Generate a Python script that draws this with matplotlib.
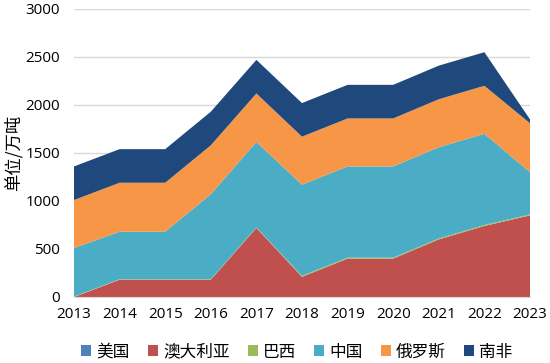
import matplotlib.pyplot as plt
from matplotlib.patches import Patch

plt.rcParams['font.family'] = ['Open Sans', 'Noto Sans CJK SC', 'DejaVu Sans']

# Données (万吨)
years = [2013, 2014, 2015, 2016, 2017, 2018, 2019, 2020, 2021, 2022, 2023]
usa = [0, 0, 0, 0, 0, 0, 0, 0, 0, 0, 0]
australie = [0, 180, 180, 180, 720, 210, 400, 400, 600, 740, 850]
bresil = [5, 5, 5, 5, 5, 10, 10, 10, 10, 10, 10]
chine = [505, 495, 495, 885, 890, 950, 950, 950, 950, 950, 440]
russie = [500, 510, 510, 510, 505, 500, 500, 500, 500, 500, 510]
afrique_sud = [350, 350, 350, 350, 350, 350, 350, 350, 350, 350, 40]

labels = ['美国', '澳大利亚', '巴西', '中国', '俄罗斯', '南非']
colors = ['#4F81BD', '#C0504D', '#9BBB59', '#4BACC6', '#F79646', '#1F497D']

fig = plt.figure(figsize=(5.5, 3.63), dpi=100)
ax = fig.add_axes([74 / 550, 1 - 297 / 363, 456 / 550, 288 / 363])

ax.stackplot(years, usa, australie, bresil, chine, russie, afrique_sud,
             colors=colors, linewidth=0, zorder=2)

ax.set_xlim(2013, 2023)
ax.set_ylim(0, 3000)
ax.set_xticks(years)
ax.set_yticks(range(0, 3001, 500))
ax.grid(axis='y', color='#D9D9D9', linewidth=1, zorder=0)
for s in ['top', 'right', 'left']:
    ax.spines[s].set_visible(False)
ax.spines['bottom'].set_color('#D9D9D9')
ax.tick_params(axis='both', length=0, labelsize=11, colors='black')
ax.tick_params(axis='x', pad=7)
ax.tick_params(axis='y', pad=10)
ax.set_ylabel('单位/万吨', fontsize=12.5, family=['Noto Sans CJK SC'], labelpad=2)

handles = [Patch(facecolor=c, label=l) for c, l in zip(colors, labels)]
fig.legend(handles=handles, loc='center', bbox_to_anchor=(0.54, 0.03),
           ncol=6, frameon=False, handlelength=0.6,
           handleheight=0.6, handletextpad=0.3, columnspacing=1.1,
           prop={'family': ['Noto Sans CJK SC'], 'size': 12})

fig.savefig('out.png', dpi=100)
